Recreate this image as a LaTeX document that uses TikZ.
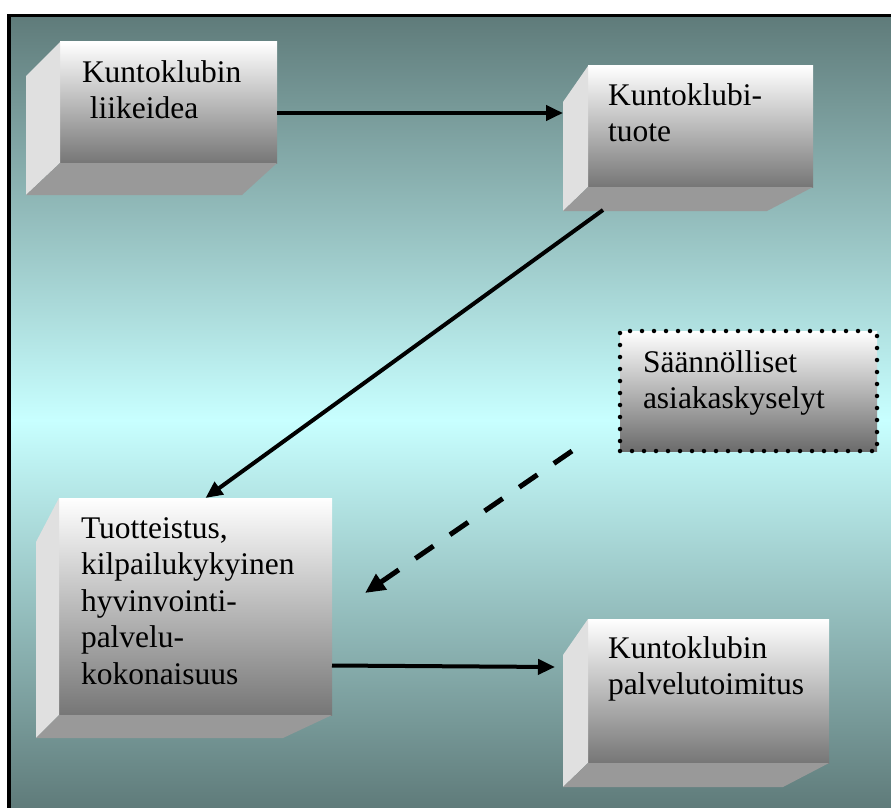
\documentclass[tikz,border=0pt]{standalone}
\usepackage{fontspec}
\setmainfont{Liberation Serif}
\usetikzlibrary{arrows.meta, calc}

\definecolor{bgdark}{RGB}{95,123,122}
\definecolor{bglight}{RGB}{200,255,255}
\definecolor{facebot}{RGB}{118,118,118}
\definecolor{sideleft}{RGB}{224,224,224}
\definecolor{sidebot}{RGB}{153,153,153}

\tikzset{
  front/.style={rectangle, inner sep=0pt, outer sep=0pt, anchor=north west,
                top color=white, bottom color=facebot},
  boxtext/.style={inner sep=0pt, outer sep=0pt, anchor=base west,
                  text width=280pt, align=left,
                  font=\fontsize{31.5}{36.5}\selectfont},
  flow/.style={line width=4pt, -{Triangle[length=17pt, width=15pt]}},
  feedback/.style={line width=5pt, dash pattern=on 22pt off 20pt,
                   -{Triangle[length=20pt, width=18pt]}},
  dotborder/.style={draw, line width=4.5pt, line cap=round,
                    dash pattern=on 0pt off 12pt}
}

\begin{document}
\begin{tikzpicture}[x=1pt, y=-1pt]
  \useasboundingbox (0,0) rectangle (891,808);

  % background and frame
  \fill[white] (0,0) rectangle (891,808);
  \shade[top color=bgdark, bottom color=bglight] (8.5,15.5) rectangle (891,420);
  \shade[top color=bglight, bottom color=bgdark] (8.5,420) rectangle (891,808);
  \draw[line width=3.5pt] (8.75,830) |- (900,15.75);

  % front faces
  \node[front, minimum width=217pt, minimum height=121pt] (idea) at (60,42) {};
  \node[front, minimum width=225pt, minimum height=121pt] (tuote) at (588,66) {};
  \node[front, minimum width=273pt, minimum height=217pt] (proc) at (59,498) {};
  \node[front, minimum width=241pt, minimum height=144pt] (deliv) at (588,619) {};

  % bevel sides
  \foreach \n/\dl/\dt/\db/\dr in {idea/34/34/32/35, tuote/25/36/24/46,
                                  proc/23/44/23/49, deliv/25/36/24/46} {
    \fill[sideleft] (\n.north west) -- ++(-\dl,\dt)
      -- ($(\n.south west)+(-\dl,\db)$) -- (\n.south west) -- cycle;
    \fill[sidebot] (\n.south west) -- ($(\n.south west)+(-\dl,\db)$)
      -- ($(\n.south east)+(-\dr,\db)$) -- (\n.south east) -- cycle;
  }

  % survey box
  \node[front, dotborder, bottom color=black!58, minimum width=257pt,
        minimum height=120pt] (kysely) at (620,331) {};

  % texts
  \node[boxtext] (idea-t) at ($(idea.north west)+(22,40)$)
    {Kuntoklubin\\\hspace*{0.25em}liikeidea};
  \node[boxtext] (tuote-t) at ($(tuote.north west)+(20,39)$)
    {Kuntoklubi-\\tuote};
  \node[boxtext] (proc-t) at ($(proc.north west)+(22,40)$)
    {Tuotteistus,\\kilpailukykyinen\\hyvinvointi-\\palvelu-\\kokonaisuus};
  \node[boxtext] (deliv-t) at ($(deliv.north west)+(20,39)$)
    {Kuntoklubin\\palvelutoimitus};
  \node[boxtext] (kysely-t) at ($(kysely.north west)+(23,41)$)
    {Säännölliset\\asiakaskyselyt};

  % arrows
  \draw[flow] ($(idea.east)+(0,10.5)$) -- ($(tuote.west)+(-25,-13.5)$);
  \draw[flow] ($(tuote.south west)+(15,23)$) -- ($(proc.north)+(10,0)$);
  \draw[flow] ($(proc.east)+(0,59)$) -- ($(deliv.west)+(-33,-24)$);
  \coordinate (fb-start) at (572,451);
  \coordinate (fb-end) at (365,593);
  \draw[feedback] (fb-start) -- (fb-end);
\end{tikzpicture}
\end{document}
